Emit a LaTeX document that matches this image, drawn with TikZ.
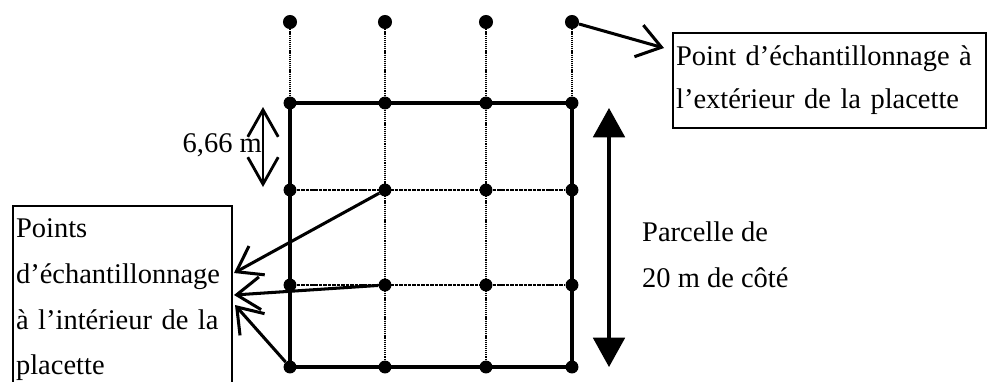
\documentclass[tikz,border=0pt]{standalone}
\usepackage{fontspec}
\setmainfont{Liberation Serif}
\usepackage{tikz}
\usetikzlibrary{arrows.meta,positioning,calc}
\tikzset{
  pt/.style={circle,fill=black,inner sep=0pt,minimum size=11pt},
  ptext/.style={circle,fill=black,inner sep=0pt,minimum size=12pt},
  trait/.style={line width=2.6pt},
  pointfin/.style={line width=1.8pt,dash pattern=on 1pt off 0.8pt},
  pointgros/.style={line width=2.4pt,dash pattern=on 3pt off 0.8pt},
  fleche/.style={line width=2.6pt,-{Straight Barb[length=20pt,width=28pt]}},
  cadre/.style={draw,line width=2pt,anchor=north west,align=left,inner xsep=2.5pt},
}
\begin{document}
\begin{tikzpicture}[x=0.03cm,y=-0.03cm,font=\fontsize{24.3pt}{39pt}\selectfont]
  \useasboundingbox (0,0) rectangle (988,381);
  \clip (0,0) rectangle (988,381);
  % points : exterieur (h) et grille (p ligne colonne)
  \foreach \c/\x in {1/290,2/385,3/486,4/572}{
    \node[ptext] (h\c) at (\x,22) {};
    \foreach \r/\y in {1/103,2/190,3/285,4/367}
      \node[pt] (p\r\c) at (\x,\y) {};
  }
  % contour de la placette
  \draw[trait] (p11.center) -- (p14.center) -- (p44.center) -- (p41.center) -- cycle;
  % lignes interieures
  \foreach \c in {2,3} \draw[pointfin] (p1\c) -- (p4\c);
  \foreach \r in {2,3} \draw[pointgros] (p\r1) -- (p\r4);
  \foreach \c in {1,...,4} \draw[pointfin] (h\c) -- (p1\c);
  % cote d'une maille
  \coordinate (c1) at (263,107);
  \coordinate (c2) at (263,187);
  \draw[line width=2.4pt,{Straight Barb[length=23pt,width=26pt]}-{Straight Barb[length=23pt,width=26pt]}] (c1) -- (c2);
  \node[anchor=east,inner sep=0pt] (cote) at (262,145) {6,66 m};
  % cote de la parcelle
  \coordinate (g1) at (609,108);
  \coordinate (g2) at (609,367);
  \draw[line width=2.6pt,{Triangle[length=25pt,width=27pt]}-{Triangle[length=25pt,width=27pt]}] (g1) -- (g2);
  \node[anchor=west,align=left,inner sep=0pt] (parc) at (642,255) {Parcelle de\\20 m de côté};
  % legendes
  \node[cadre,text width=262pt,minimum height=81pt,font=\fontsize{24.3pt}{36.7pt}\selectfont] (ext) at (672,32)
    {Point d’échantillonnage à\\l’extérieur de la placette};
  \node[cadre,text width=182pt,minimum height=160pt] (int) at (12,205)
    {Points\\d’échantillonnage\\à l’intérieur de la\\placette};
  % fleches vers les legendes
  \coordinate (e1) at (664,48);
  \draw[fleche] (h4) -- (e1);
  \coordinate (i1) at (234,273);
  \coordinate (i2) at (234,295);
  \coordinate (i3) at (235,305);
  \draw[fleche] (p22) -- (i1);
  \draw[fleche] (p32) -- (i2);
  \draw[fleche] (p41) -- (i3);
\end{tikzpicture}
\end{document}
